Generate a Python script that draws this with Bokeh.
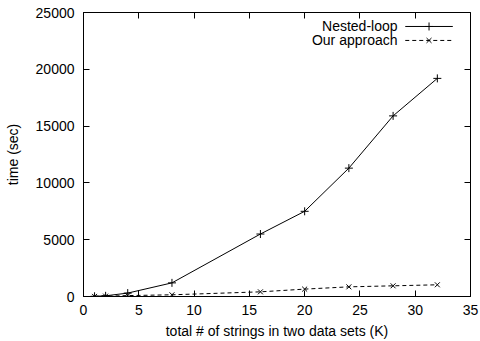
from bokeh.plotting import figure
from bokeh.models import Range1d, LinearAxis, Label, FixedTicker
from bokeh.embed import file_html
from bokeh.resources import INLINE

sizes_k = [1, 2, 4, 8, 16, 20, 24, 28, 32]
nested_loop = [20, 60, 300, 1200, 5500, 7500, 11300, 15900, 19200]
our_approach = [10, 30, 80, 150, 410, 650, 850, 940, 1030]

x_ticks = [0, 5, 10, 15, 20, 25, 30, 35]
y_ticks = [0, 5000, 10000, 15000, 20000, 25000]
legend_labels = ["Nested-loop", "Our approach"]

FONT = "Liberation Sans"
FS = "14px"

p = figure(width=480, height=341, output_backend="svg", toolbar_location=None,
           x_range=Range1d(0, 35), y_range=Range1d(0, 25000),
           min_border_left=83, min_border_right=10, min_border_top=12, min_border_bottom=44)
p.background_fill_color = "white"
p.border_fill_color = "white"
p.outline_line_color = "black"
p.outline_line_width = 1
p.grid.visible = False

for ax in [p.xaxis[0], p.yaxis[0]]:
    ax.major_tick_in = 6
    ax.major_tick_out = 0
    ax.minor_tick_in = 0
    ax.minor_tick_out = 0
    ax.axis_line_color = "black"
    ax.major_tick_line_color = "black"
    ax.major_label_text_font = FONT
    ax.major_label_text_font_size = FS
    ax.major_label_text_color = "black"
    ax.axis_label_text_font = FONT
    ax.axis_label_text_font_size = FS
    ax.axis_label_text_font_style = "normal"
    ax.axis_label_text_color = "black"

p.xaxis[0].ticker = FixedTicker(ticks=x_ticks)
p.yaxis[0].ticker = FixedTicker(ticks=y_ticks)
p.xaxis[0].axis_label = "total # of strings in two data sets (K)"
p.yaxis[0].axis_label = "time (sec)"
p.xaxis[0].major_label_standoff = 8
p.yaxis[0].major_label_standoff = 9
p.xaxis[0].axis_label_standoff = 5
p.yaxis[0].axis_label_standoff = 12

# mirrored ticks (no labels)
top = LinearAxis(ticker=FixedTicker(ticks=x_ticks[1:-1]), major_tick_in=6, major_tick_out=0,
                 minor_tick_in=0, minor_tick_out=0, major_label_standoff=0,
                 major_label_overrides={t: "" for t in x_ticks[1:-1]}, axis_line_color="black")
right = LinearAxis(ticker=FixedTicker(ticks=y_ticks[1:-1]), major_tick_in=6, major_tick_out=0,
                   minor_tick_in=0, minor_tick_out=0, major_label_standoff=0,
                   major_label_overrides={t: "" for t in y_ticks[1:-1]}, axis_line_color="black")
p.add_layout(top, "above")
p.add_layout(right, "right")

p.line(sizes_k, nested_loop, line_color="black", line_width=1)
p.scatter(sizes_k, nested_loop, marker="cross", size=8, line_color="black", line_width=1)
p.line(sizes_k, our_approach, line_color="black", line_width=1, line_dash="4 3")
p.scatter(sizes_k, our_approach, marker="x", size=7, line_color="black", line_width=1)

# key (gnuplot style: text on left, sample on right)
key_y = [23770, 22540]
p.line([29.1, 33.4], [key_y[0], key_y[0]], line_color="black", line_width=1)
p.scatter([31.25], [key_y[0]], marker="cross", size=8, line_color="black")
p.line([29.1, 33.4], [key_y[1], key_y[1]], line_color="black", line_width=1, line_dash="4 3")
p.scatter([31.25], [key_y[1]], marker="x", size=7, line_color="black")
for lbl, yy in zip(legend_labels, key_y):
    p.add_layout(Label(x=28.4, y=yy, text=lbl, text_align="right", text_baseline="middle",
                       text_font=FONT, text_font_size=FS, text_color="black"))

open("out.html", "w").write(file_html(p, INLINE))
